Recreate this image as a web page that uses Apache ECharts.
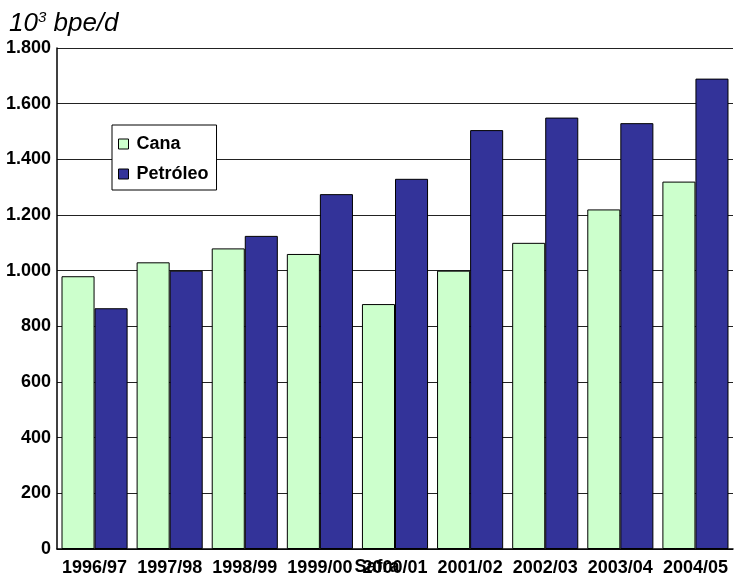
<!DOCTYPE html>
<html lang="pt-BR" style="height: 100%">
<head>
  <meta charset="utf-8">
</head>
<body style="height: 100%; margin: 0; background: #fff">
  <div id="container" style="width: 734px; height: 578px"></div>
  <script type="text/javascript" src="https://cdn.jsdelivr.net/npm/echarts@6/dist/echarts.min.js"></script>
  <script type="text/javascript">
    // safras e valores (10^3 bpe/d)
    var safras = ['1996/97', '1997/98', '1998/99', '1999/00', '2000/01', '2001/02', '2002/03', '2003/04', '2004/05'];
    var cana = [980, 1030, 1080, 1060, 880, 1000, 1100, 1220, 1320];
    var petroleo = [865, 1000, 1125, 1275, 1330, 1505, 1550, 1530, 1690];
    var yTicks = [0, 200, 400, 600, 800, 1000, 1200, 1400, 1600, 1800];

    var fonte = 'Arial, "Liberation Sans", sans-serif';

    var myChart = echarts.init(document.getElementById('container'));

    var option = {
      animation: false,
      title: {
        text: '{b|10}{s|3}{b| bpe/d}',
        left: 4,
        top: 5,
        textStyle: {
          rich: {
            b: { fontFamily: fonte, fontStyle: 'italic', fontWeight: 'normal', fontSize: 26, color: '#000' },
            s: { fontFamily: fonte, fontStyle: 'italic', fontWeight: 'normal', fontSize: 15, color: '#000', verticalAlign: 'top', padding: [0, 0, 12, 0] }
          }
        }
      },
      legend: {
        orient: 'vertical',
        left: 112,
        top: 125,
        itemWidth: 10,
        itemHeight: 10,
        itemGap: 12,
        padding: [10, 8, 7, 6],
        backgroundColor: '#fff',
        borderColor: '#000',
        borderWidth: 1,
        borderRadius: 0,
        icon: 'rect',
        itemStyle: { borderColor: '#000', borderWidth: 1 },
        textStyle: { fontFamily: fonte, fontWeight: 'bold', fontSize: 18, color: '#000', padding: [0, 0, 0, 3] },
        data: ['Cana', 'Petróleo']
      },
      grid: {
        left: 57,
        right: 1,
        top: 48,
        bottom: 29,
        containLabel: false,
        outerBoundsMode: 'none'
      },
      xAxis: {
        type: 'category',
        data: safras,
        name: 'Safra',
        nameLocation: 'middle',
        nameGap: 9,
        nameMoveOverlap: false,
        nameTextStyle: { fontFamily: fonte, fontWeight: 'bold', fontSize: 18, color: '#000', padding: [0, 36, 0, 0] },
        axisLine: { lineStyle: { color: '#000', width: 1.5 } },
        axisTick: { show: false },
        axisLabel: { fontFamily: fonte, fontWeight: 'bold', fontSize: 18, color: '#000', margin: 10, interval: 0, hideOverlap: false }
      },
      yAxis: {
        type: 'value',
        min: yTicks[0],
        max: yTicks[yTicks.length - 1],
        interval: 200,
        axisLine: { show: true, lineStyle: { color: '#000', width: 1.5 } },
        axisTick: { show: false },
        splitLine: { lineStyle: { color: '#222', width: 1 } },
        axisLabel: {
          fontFamily: fonte,
          fontWeight: 'bold',
          fontSize: 18,
          color: '#000',
          margin: 6,
          formatter: function (v) {
            return String(v).replace(/\B(?=(\d{3})+(?!\d))/g, '.');
          }
        }
      },
      series: [
        {
          name: 'Cana',
          type: 'bar',
          data: cana,
          barGap: '0%',
          barCategoryGap: '12%',
          itemStyle: { color: '#CCFFCC', borderColor: '#000', borderWidth: 1 }
        },
        {
          name: 'Petróleo',
          type: 'bar',
          data: petroleo,
          itemStyle: { color: '#333399', borderColor: '#000', borderWidth: 1 }
        }
      ]
    };

    myChart.setOption(option);
  </script>
</body>
</html>
